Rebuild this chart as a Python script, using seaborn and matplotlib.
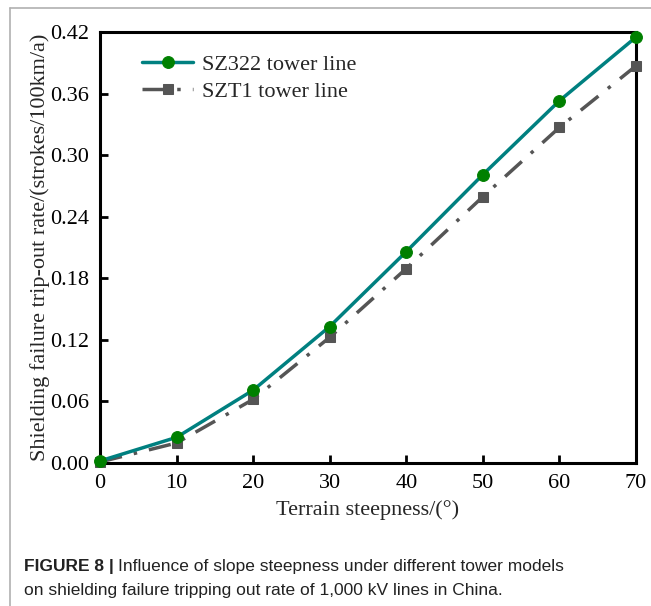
import matplotlib
matplotlib.use("Agg")
import matplotlib.pyplot as plt
import seaborn as sns
import pandas as pd
from matplotlib.lines import Line2D

steepness = [0, 10, 20, 30, 40, 50, 60, 70]
sz322 = [0.002, 0.025, 0.071, 0.133, 0.206, 0.281, 0.353, 0.415]
szt1 = [0.001, 0.0195, 0.062, 0.1225, 0.1895, 0.2595, 0.327, 0.387]
series_names = ["SZ322 tower line", "SZT1 tower line"]
yticks = [0.00, 0.06, 0.12, 0.18, 0.24, 0.30, 0.36, 0.42]
xticks = [0, 10, 20, 30, 40, 50, 60, 70]

df = pd.DataFrame({
    "x": steepness * 2,
    "y": sz322 + szt1,
    "series": [series_names[0]] * len(steepness) + [series_names[1]] * len(steepness),
})

sns.set_theme(style="white")
plt.rcParams["font.family"] = ["Liberation Serif", "DejaVu Serif"]

fig = plt.figure(figsize=(6.51, 6.06), dpi=100)
ax = fig.add_axes([100 / 651, 1 - 463 / 606, 536 / 651, 431 / 606])

sns.lineplot(data=df[df.series == series_names[0]], x="x", y="y", ax=ax,
             color="#008080", linewidth=2.5, marker="o", markersize=8.5,
             markerfacecolor="#008000", markeredgecolor="#008000",
             label=series_names[0], clip_on=False, zorder=4)
sns.lineplot(data=df[df.series == series_names[1]], x="x", y="y", ax=ax,
             color="#555555", linewidth=2.5, marker="s", markersize=7,
             markerfacecolor="#555555", markeredgecolor="#555555",
             dashes=False, label=series_names[1], clip_on=False, zorder=3)
ax.lines[1].set_dashes([6.5, 3.5, 1.0, 3.5])

ax.set_xlim(0, 70)
ax.set_ylim(0, 0.42)
ax.set_xticks(xticks)
ax.set_xticklabels([str(v) for v in xticks])
ax.set_yticks(yticks)
ax.set_yticklabels([f"{v:.2f}" for v in yticks])
ax.tick_params(axis="both", direction="in", length=6, width=2, labelsize=16,
               colors="black", pad=8, bottom=True, left=True)
for s in ax.spines.values():
    s.set_color("black")
    s.set_linewidth(2.2)

ax.set_xlabel("Terrain steepness/(°)", fontsize=16, labelpad=5)
ax.set_ylabel("Shielding failure trip-out rate/(strokes/100km/a)", fontsize=16, labelpad=0)

leg = ax.legend(loc="upper left", bbox_to_anchor=(0.041, 0.995), frameon=False,
                fontsize=16, handlelength=2.3, handletextpad=0.4, labelspacing=0.3)
for h in leg.legend_handles:
    h.set_linewidth(2.5)

# outer frame lines
fig.add_artist(Line2D([10 / 651, 1.0], [1 - 8 / 606, 1 - 8 / 606], color="#b0b0b0", linewidth=1.2))
fig.add_artist(Line2D([10 / 651, 10 / 651], [0, 1 - 8 / 606], color="#b0b0b0", linewidth=1.2))

cap_font = ["Liberation Sans Narrow", "Liberation Sans", "DejaVu Sans"]
t1 = fig.text(24 / 651, 1 - 566 / 606, "FIGURE 8 |", fontsize=12.5, fontweight="bold",
              family=cap_font, va="center", ha="left", color="#222222")
fig.canvas.draw()
bb = t1.get_window_extent()
fig.text(bb.x1 / 651 + 4 / 651, 1 - 566 / 606, "Influence of slope steepness under different tower models",
         fontsize=12.5, family=cap_font, va="center", ha="left", color="#222222")
fig.text(24 / 651, 1 - 590 / 606, "on shielding failure tripping out rate of 1,000 kV lines in China.",
         fontsize=12.5, family=cap_font, va="center", ha="left", color="#222222")

fig.savefig("out.png", dpi=100)
